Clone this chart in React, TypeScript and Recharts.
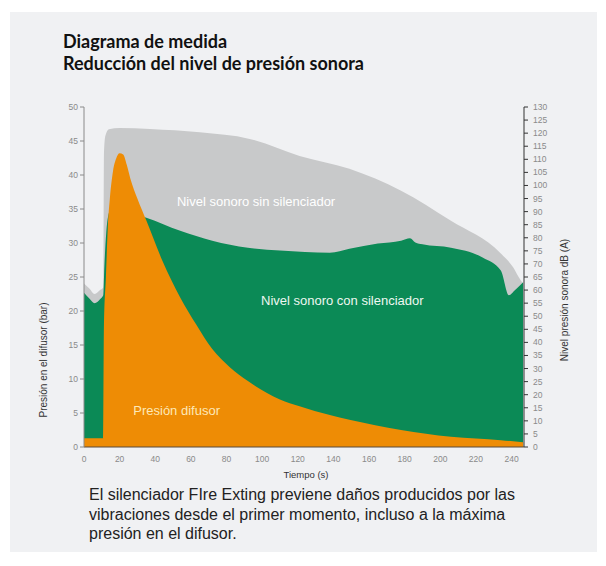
import React from 'react';
import { ComposedChart, Area, XAxis, YAxis, ReferenceDot } from 'recharts';

// eje x (s) y ejes y
const timeTicks = [0, 20, 40, 60, 80, 100, 120, 140, 160, 180, 200, 220, 240];
const barTicks = [0, 5, 10, 15, 20, 25, 30, 35, 40, 45, 50];
const dbTicks = [0, 5, 10, 15, 20, 25, 30, 35, 40, 45, 50, 55, 60, 65, 70, 75, 80, 85, 90, 95, 100, 105, 110, 115, 120, 125, 130];

// nivel sonoro sin silenciador, dB(A)
const sinTime = [0, 3, 6, 9, 10.8, 11.2, 12, 14, 20, 37, 65, 93, 121, 149, 178, 206, 234, 241, 244, 246.5];
const sinDb = [62.5, 60.6, 58.5, 60, 61, 112, 119, 121.5, 122, 121.6, 120.3, 117.8, 111.3, 106.4, 98, 86.5, 74, 68.6, 65, 62.5];

// nivel sonoro con silenciador, dB(A)
const conTime = [0, 3, 6, 9, 10.8, 11.5, 12.5, 13.5, 15.5, 20, 26, 35, 54, 72, 92, 110, 138, 149, 165, 178, 183, 186, 190, 206, 224, 234, 238.5, 242, 246.5];
const conDb = [59, 56.8, 55, 56.5, 58, 70, 82, 88, 91.3, 90.8, 89.6, 87.7, 82.7, 78.9, 76.2, 75.1, 74.3, 75.8, 77.8, 78.9, 79.8, 78.2, 77.5, 76.2, 72.4, 67.5, 58, 60, 63];

// presión en el difusor, bar
const difTime = [0, 10.8, 11.2, 12.3, 13.3, 14.5, 16.3, 18, 20, 22, 24, 26, 30, 35, 44, 54, 63, 72, 82, 92, 110, 121, 138, 149, 178, 206, 234, 246.5];
const difBar = [1.3, 1.3, 18, 25, 32, 36.5, 40.6, 42.4, 43.2, 43, 41.5, 39.5, 36.5, 33.3, 27.4, 22, 18, 14.4, 11.7, 9.7, 7, 6, 4.7, 4, 2.5, 1.5, 1, 0.7];

const rows = [
  ...sinTime.map((t, i) => ({ t, sin: sinDb[i] })),
  ...conTime.map((t, i) => ({ t, con: conDb[i] })),
  ...difTime.map((t, i) => ({ t, dif: difBar[i] })),
].sort((a, b) => a.t - b.t);

const FONT = '"Liberation Sans", Arial, sans-serif';
const tickStyle = { fontSize: 8.5, fill: '#8a8a8a', fontFamily: FONT };

const App = () => {
  return (
    <div style={{ position: 'absolute', left: 0, top: 0, width: 606, height: 566, background: '#fff' }}>
      <div style={{ position: 'absolute', left: 10, top: 12, width: 587, height: 540, background: '#f0f1f3' }} />
      <div
        style={{
          position: 'absolute',
          left: 63,
          top: 30,
          fontFamily: 'Lato, "Open Sans", sans-serif',
          fontWeight: 700,
          fontSize: 18,
          lineHeight: '22px',
          color: '#111',
        }}
      >
        <div>Diagrama de medida</div>
        <div>Reducción del nivel de presión sonora</div>
      </div>
      <div style={{ position: 'absolute', left: 0, top: 0 }}>
        <ComposedChart width={606} height={566} data={rows} margin={{ top: 107, right: 42, bottom: 89, left: 44 }}>
          <XAxis
            dataKey="t"
            type="number"
            domain={[0, 247]}
            ticks={timeTicks}
            allowDataOverflow
            tick={tickStyle}
            tickLine={false}
            tickMargin={3}
            axisLine={{ stroke: '#5a4a3a' }}
            height={30}
            label={{
              content: () => (
                <text x={306} y={474} textAnchor="middle" dominantBaseline="central" fontSize={9.5} fill="#333" fontFamily={FONT}>
                  Tiempo (s)
                </text>
              ),
            }}
          />
          <YAxis
            yAxisId="bar"
            orientation="left"
            domain={[0, 50]}
            ticks={barTicks}
            width={40}
            tick={tickStyle}
            tickSize={4}
            tickLine={{ stroke: '#8a8a8a' }}
            axisLine={{ stroke: '#8a8a8a' }}
            label={{
              content: () => (
                <text x={43} y={360} transform="rotate(-90 43 360)" textAnchor="middle" dominantBaseline="central" fontSize={10} fill="#333" fontFamily={FONT}>
                  Presión en el difusor (bar)
                </text>
              ),
            }}
          />
          <YAxis
            yAxisId="db"
            orientation="right"
            domain={[0, 130]}
            ticks={dbTicks}
            width={40}
            tick={tickStyle}
            tickSize={4}
            tickMargin={5}
            tickLine={{ stroke: '#333' }}
            axisLine={{ stroke: '#333' }}
            interval={0}
            label={{
              content: () => (
                <text x={564} y={300} transform="rotate(-90 564 300)" textAnchor="middle" dominantBaseline="central" fontSize={10} fill="#333" fontFamily={FONT}>
                  Nivel presión sonora dB (A)
                </text>
              ),
            }}
          />
          <Area yAxisId="db" dataKey="sin" type="monotone" connectNulls fill="#c8c9ca" fillOpacity={1} stroke="none" isAnimationActive={false} />
          <Area yAxisId="db" dataKey="con" type="monotone" connectNulls fill="#0b8a56" fillOpacity={1} stroke="none" isAnimationActive={false} />
          <Area yAxisId="bar" dataKey="dif" type="monotone" connectNulls fill="#ee8c05" fillOpacity={1} stroke="none" isAnimationActive={false} />
          <ReferenceDot
            yAxisId="db"
            x={96.6}
            y={93.8}
            r={0}
            stroke="none"
            label={{ value: 'Nivel sonoro sin silenciador', position: 'center', fill: '#ffffff', fontSize: 13, fontFamily: FONT }}
          />
          <ReferenceDot
            yAxisId="db"
            x={145}
            y={56}
            r={0}
            stroke="none"
            label={{ value: 'Nivel sonoro con silenciador', position: 'center', fill: '#eef7f1', fontSize: 13, fontFamily: FONT }}
          />
          <ReferenceDot
            yAxisId="bar"
            x={52}
            y={5.4}
            r={0}
            stroke="none"
            label={{ value: 'Presión difusor', position: 'center', fill: '#fde8b8', fontSize: 13, fontFamily: FONT }}
          />
        </ComposedChart>
      </div>
      <div
        style={{
          position: 'absolute',
          left: 89,
          top: 485,
          width: 480,
          fontFamily: FONT,
          fontSize: 16,
          lineHeight: '19.5px',
          color: '#222',
        }}
      >
        El silenciador FIre Exting previene daños producidos por las
        <br />
        vibraciones desde el primer momento, incluso a la máxima
        <br />
        presión en el difusor.
      </div>
    </div>
  );
};

export default App;
